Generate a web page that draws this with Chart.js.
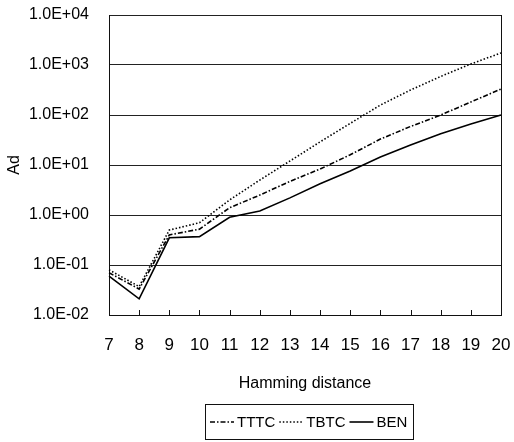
<!DOCTYPE html>
<html><head><meta charset="utf-8">
<style>html,body{margin:0;padding:0;background:#fff}#wrap{width:514px;height:442px;position:relative}</style>
<script src="https://cdn.jsdelivr.net/npm/chart.js@4/dist/chart.umd.min.js"></script>
</head><body><div id="wrap"><canvas id="c" width="514" height="442"></canvas></div>
<script>
const categories = ['7','8','9','10','11','12','13','14','15','16','17','18','19','20'];
const tttc = [0.07, 0.033, 0.4, 0.52, 1.4, 2.5, 4.7, 8.3, 16, 33, 59, 100, 182, 330];
const tbtc = [0.08, 0.037, 0.5, 0.7, 2.0, 5.0, 12, 29, 68, 158, 316, 590, 1050, 1740];
const ben = [0.06, 0.021, 0.35, 0.37, 0.9, 1.2, 2.2, 4.2, 7.6, 14.5, 25, 42, 66, 100];
const yTickValues = [0.01, 0.1, 1, 10, 100, 1000, 10000];
const yTickLabels = ['1.0E-02','1.0E-01','1.0E+00','1.0E+01','1.0E+02','1.0E+03','1.0E+04'];
const seriesNames = ['TTTC', 'TBTC', 'BEN'];
const xTitle = 'Hamming distance';
const yTitle = 'Ad';

const FONT = "'Liberation Sans', Arial, sans-serif";

const frame = {
  id: 'frame',
  afterDraw(chart) {
    const {ctx, chartArea: a, scales: {x}} = chart;
    ctx.save();
    ctx.strokeStyle = '#111';
    ctx.lineWidth = 1;
    ctx.setLineDash([]);
    ctx.beginPath();
    ctx.moveTo(Math.round(a.right) + 0.5, a.top);
    ctx.lineTo(Math.round(a.right) + 0.5, a.bottom);
    for (let i = 1; i < categories.length - 1; i++) {
      const px = Math.round(x.getPixelForValue(i)) + 0.5;
      ctx.moveTo(px, a.bottom);
      ctx.lineTo(px, a.bottom - 5);
    }
    ctx.stroke();
    // legend
    const ds = chart.data.datasets;
    ctx.font = "15px " + FONT;
    ctx.textBaseline = 'middle';
    const sample = 24, gap1 = 3, gap2 = 4;
    let total = 0;
    const widths = ds.map(d => ctx.measureText(d.label).width);
    widths.forEach(w => total += sample + gap1 + w + gap2);
    const cx = 310, cy = 422;
    const left = Math.round(cx - total / 2) - 4, right = Math.round(cx + total / 2) + 2;
    ctx.strokeStyle = '#111';
    ctx.lineWidth = 1;
    ctx.strokeRect(left + 0.5, 404.5, right - left, 35);
    let xx = left + 5;
    ds.forEach((d, i) => {
      ctx.save();
      ctx.strokeStyle = d.borderColor;
      ctx.lineWidth = d.borderWidth;
      ctx.setLineDash(d.borderDash || []);
      ctx.beginPath();
      ctx.moveTo(xx, cy);
      ctx.lineTo(xx + sample, cy);
      ctx.stroke();
      ctx.restore();
      xx += sample + gap1;
      ctx.fillStyle = '#000';
      ctx.fillText(d.label, xx, cy + 1);
      xx += widths[i] + gap2;
    });
    ctx.restore();
  }
};

new Chart(document.getElementById('c'), {
  type: 'line',
  data: {
    labels: categories,
    datasets: [
      { label: seriesNames[0], data: tttc, borderColor: '#000', borderWidth: 1.6, borderDash: [5, 2, 1.5, 2], pointRadius: 0, tension: 0, fill: false },
      { label: seriesNames[1], data: tbtc, borderColor: '#000', borderWidth: 1.6, borderDash: [1.5, 2], pointRadius: 0, tension: 0, fill: false },
      { label: seriesNames[2], data: ben, borderColor: '#000', borderWidth: 1.6, borderDash: [], pointRadius: 0, tension: 0, fill: false }
    ]
  },
  options: {
    responsive: false,
    animation: false,
    events: [],
    layout: { padding: { left: 0, right: 13, top: 15, bottom: 47 } },
    plugins: { legend: { display: false }, tooltip: { enabled: false } },
    scales: {
      x: {
        type: 'category',
        offset: false,
        grid: { display: false, drawTicks: false },
        border: { display: true, color: '#111', width: 1 },
        ticks: { color: '#000', font: { family: FONT, size: 17 }, padding: 20, maxRotation: 0, autoSkip: false },
        title: { display: true, text: xTitle, color: '#000', font: { family: FONT, size: 16 }, padding: { top: 8, bottom: 2 } },
        afterFit(s) { s.height = 80; s.paddingLeft = 0; s.paddingRight = 0; s.paddingTop = 0; s.paddingBottom = 0; }
      },
      y: {
        type: 'logarithmic',
        min: 0.01,
        max: 10000,
        afterBuildTicks(s) { s.ticks = yTickValues.map(v => ({ value: v })); },
        grid: { display: true, color: '#222', lineWidth: 1, drawTicks: false },
        border: { display: true, color: '#111', width: 1 },
        ticks: {
          color: '#000', font: { family: FONT, size: 16 }, padding: 20,
          callback(v) { const i = yTickValues.indexOf(v); return i >= 0 ? yTickLabels[i] : ''; }
        },
        title: { display: true, text: yTitle, color: '#000', font: { family: FONT, size: 16 }, padding: { top: 5, bottom: 0 } },
        afterFit(s) { s.width = 109; s.paddingTop = 0; s.paddingBottom = 0; s.paddingLeft = 0; s.paddingRight = 0; }
      }
    }
  },
  plugins: [frame]
});
</script>
</body></html>
